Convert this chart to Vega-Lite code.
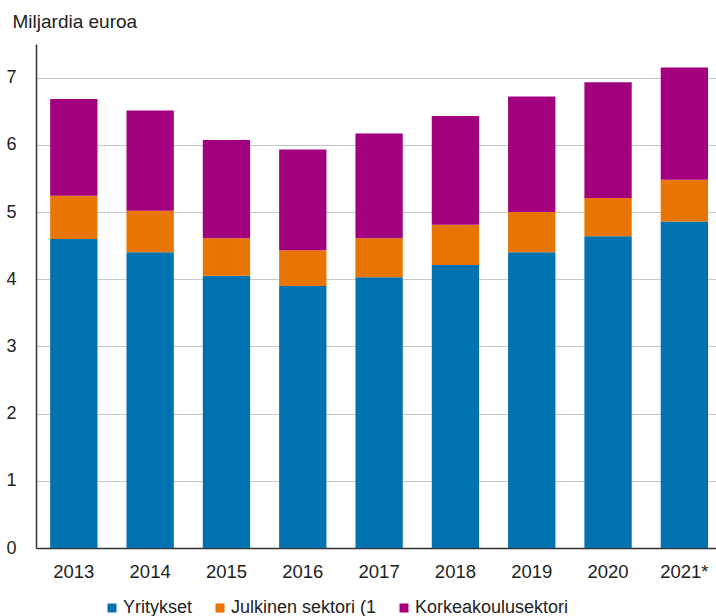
{
  "$schema": "https://vega.github.io/schema/vega-lite/v6.json",
  "width": 680,
  "height": 504,
  "autosize": {"type": "none"},
  "padding": {"left": 36, "top": 44, "right": 0, "bottom": 68},
  "background": "white",
  "config": {
    "view": {"stroke": null},
    "font": "Liberation Sans",
    "axis": {"labelFont": "Liberation Sans", "titleFont": "Liberation Sans", "labelColor": "#222222", "titleColor": "#222222"},
    "legend": {"labelFont": "Liberation Sans"}
  },
  "data": {
    "values": [
      {"vuosi": "2013", "sektori": "Yritykset", "arvo": 4.60},
      {"vuosi": "2013", "sektori": "Julkinen sektori (1", "arvo": 0.64},
      {"vuosi": "2013", "sektori": "Korkeakoulusektori", "arvo": 1.44},
      {"vuosi": "2014", "sektori": "Yritykset", "arvo": 4.40},
      {"vuosi": "2014", "sektori": "Julkinen sektori (1", "arvo": 0.62},
      {"vuosi": "2014", "sektori": "Korkeakoulusektori", "arvo": 1.49},
      {"vuosi": "2015", "sektori": "Yritykset", "arvo": 4.05},
      {"vuosi": "2015", "sektori": "Julkinen sektori (1", "arvo": 0.56},
      {"vuosi": "2015", "sektori": "Korkeakoulusektori", "arvo": 1.46},
      {"vuosi": "2016", "sektori": "Yritykset", "arvo": 3.90},
      {"vuosi": "2016", "sektori": "Julkinen sektori (1", "arvo": 0.53},
      {"vuosi": "2016", "sektori": "Korkeakoulusektori", "arvo": 1.50},
      {"vuosi": "2017", "sektori": "Yritykset", "arvo": 4.03},
      {"vuosi": "2017", "sektori": "Julkinen sektori (1", "arvo": 0.58},
      {"vuosi": "2017", "sektori": "Korkeakoulusektori", "arvo": 1.56},
      {"vuosi": "2018", "sektori": "Yritykset", "arvo": 4.21},
      {"vuosi": "2018", "sektori": "Julkinen sektori (1", "arvo": 0.60},
      {"vuosi": "2018", "sektori": "Korkeakoulusektori", "arvo": 1.62},
      {"vuosi": "2019", "sektori": "Yritykset", "arvo": 4.40},
      {"vuosi": "2019", "sektori": "Julkinen sektori (1", "arvo": 0.60},
      {"vuosi": "2019", "sektori": "Korkeakoulusektori", "arvo": 1.72},
      {"vuosi": "2020", "sektori": "Yritykset", "arvo": 4.64},
      {"vuosi": "2020", "sektori": "Julkinen sektori (1", "arvo": 0.57},
      {"vuosi": "2020", "sektori": "Korkeakoulusektori", "arvo": 1.72},
      {"vuosi": "2021*", "sektori": "Yritykset", "arvo": 4.86},
      {"vuosi": "2021*", "sektori": "Julkinen sektori (1", "arvo": 0.62},
      {"vuosi": "2021*", "sektori": "Korkeakoulusektori", "arvo": 1.67}
    ]
  },
  "transform": [
    {"calculate": "indexof(['Yritykset', 'Julkinen sektori (1', 'Korkeakoulusektori'], datum.sektori)", "as": "jarj"}
  ],
  "mark": {"type": "bar"},
  "encoding": {
    "x": {
      "field": "vuosi", "type": "ordinal", "sort": null,
      "scale": {"paddingInner": 0.38, "paddingOuter": 0.145, "align": 0.64},
      "axis": {
        "title": null, "labelAngle": 0, "labelFontSize": 18.5, "labelPadding": 14,
        "ticks": false, "tickSize": 0, "domainColor": "#333333", "domainWidth": 1.5, "grid": false
      }
    },
    "y": {
      "field": "arvo", "type": "quantitative", "stack": "zero",
      "scale": {"domain": [0, 7.5], "nice": false},
      "axis": {
        "values": [0, 1, 2, 3, 4, 5, 6, 7],
        "title": "Miljardia euroa", "titleAngle": 0, "titleAlign": "left", "titleBaseline": "alphabetic",
        "titleX": -24, "titleY": -17, "titleFontSize": 19, "titleFontWeight": "normal",
        "labelFontSize": 18, "labelPadding": 20, "ticks": false, "tickSize": 0,
        "domainColor": "#333333", "domainWidth": 1.5,
        "grid": true, "gridColor": "#c8c8c8", "gridWidth": 1
      }
    },
    "color": {
      "field": "sektori", "type": "nominal",
      "scale": {
        "domain": ["Yritykset", "Julkinen sektori (1", "Korkeakoulusektori"],
        "range": ["#0072b0", "#e87502", "#a3007f"]
      },
      "legend": {
        "title": null, "orient": "none", "direction": "horizontal",
        "legendX": 67, "legendY": 555,
        "symbolType": "square", "symbolSize": 81, "symbolStrokeWidth": 0,
        "labelFontSize": 18, "labelColor": "#222222", "labelOffset": 2, "columnPadding": 18
      }
    },
    "order": {"field": "jarj", "type": "quantitative"}
  }
}
